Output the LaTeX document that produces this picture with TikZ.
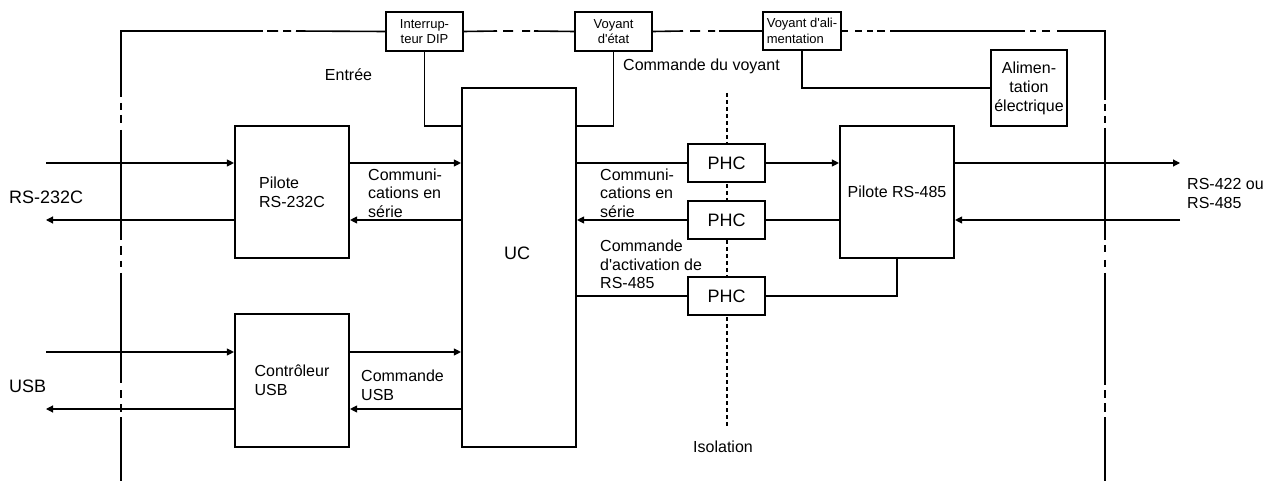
\documentclass[tikz,border=0pt]{standalone}
\usepackage{fontspec}
\setmainfont{Liberation Sans}
\usetikzlibrary{arrows.meta}
\newcommand{\fmain}{\fontsize{16}{18.6}\selectfont}
\newcommand{\fbig}{\fontsize{18}{21}\selectfont}
\newcommand{\fsmall}{\fontsize{13}{15.5}\selectfont}
\newcommand{\ap}{\textquotesingle}
\tikzset{
  blk/.style={draw, line width=2.1pt, fill=white, inner sep=0pt, font=\fmain},
  smallblk/.style={blk, font=\fsmall, minimum width=77pt, minimum height=39pt},
  phcblk/.style={blk, font=\fbig, minimum width=77pt, minimum height=38pt},
  bigblk/.style={blk, minimum width=114pt, align=left},
  conn/.style={line width=1.1pt},
  arr/.style={conn, -{Triangle[length=7pt,width=7pt]}},
  frame/.style={line width=1.6pt},
  isol/.style={line width=1.5pt, dash pattern=on 4pt off 3pt},
  lbl/.style={inner sep=0pt, font=\fmain, align=left},
}
\begin{document}
\begin{tikzpicture}[x=1pt,y=-1pt]
\useasboundingbox (0,0) rectangle (1270,481);

% isolation line (behind PHC boxes)
\coordinate (iso1) at (727,93);
\coordinate (iso2) at (727,426);
\draw[isol] (iso1) -- (iso2);

% blocks
\node[smallblk, align=center] (sw) at (424.5,31.5) {Interrup-\\teur DIP};
\node[smallblk, align=center] (led) at (613.5,31.5) {Voyant\\d\ap état};
\node[smallblk, align=left, minimum width=78pt, minimum height=38pt] (pled) at (802,31) {Voyant d\ap ali-\\mentation};
\node[blk, align=center, minimum width=76pt, minimum height=76pt, font=\fontsize{16}{19}\selectfont] (psu) at (1029,88) {Alimen-\\tation\\électrique};
\node[blk, minimum width=114pt, minimum height=359pt] (uc) at (519,267.5) {};
\node[inner sep=0pt, font=\fbig] (uctext) at (517,253) {UC};
\node[bigblk, minimum height=132pt, font=\fontsize{16}{19}\selectfont] (p232) at (292,192) {Pilote\\RS-232C};
\node[bigblk, minimum height=133pt, font=\fontsize{16}{19}\selectfont] (usbc) at (292,380.5) {Contrôleur\\USB};
\node[phcblk] (phc1) at (726.5,163) {PHC};
\node[phcblk] (phc2) at (726.5,220) {PHC};
\node[phcblk] (phc3) at (726.5,296) {PHC};
\node[bigblk, minimum height=132pt] (p485) at (897,192) {Pilote RS-485};

% levels
\coordinate (r1) at (0,163);
\coordinate (r2) at (0,220);
\coordinate (u1) at (0,352);
\coordinate (u2) at (0,409);
\coordinate (t) at (0,126);
\coordinate (in232) at (46,163);
\coordinate (out232) at (46,220);
\coordinate (inusb) at (46,352);
\coordinate (outusb) at (46,409);
\coordinate (o485) at (1180,163);
\coordinate (i485) at (1180,220);

% connectors
\draw[arr] (in232) -- (p232.west |- r1);
\draw[arr] (p232.west |- r2) -- (out232);
\draw[arr] (p232.east |- r1) -- (uc.west |- r1);
\draw[arr] (uc.west |- r2) -- (p232.east |- r2);
\draw[arr] (inusb) -- (usbc.west |- u1);
\draw[arr] (usbc.west |- u2) -- (outusb);
\draw[arr] (usbc.east |- u1) -- (uc.west |- u1);
\draw[arr] (uc.west |- u2) -- (usbc.east |- u2);
\draw[conn] (uc.east |- phc1.west) -- (phc1.west);
\draw[arr] (phc1.east) -- (p485.west |- phc1.east);
\draw[arr] (phc2.west) -- (uc.east |- phc2.west);
\draw[conn] (p485.west |- phc2.east) -- (phc2.east);
\draw[conn] (uc.east |- phc3.west) -- (phc3.west);
\draw[conn] (phc3.east) -| (p485.south);
\draw[arr] (p485.east |- r1) -- (o485);
\draw[arr] (i485) -- (p485.east |- r2);
\draw[conn] (sw.south) |- (uc.west |- t);
\draw[conn] (led.south) |- (uc.east |- t);
\draw[conn] (pled.south) |- (psu.west);

% frame
\draw[frame, line join=miter] (121,97) -- (121,31) -- (263,31);
\draw[frame] (267,31) -- (278,31) (283,31) -- (291,31) (296,31) -- (sw.west);
\draw[frame] (sw.east) -- (497,31) (503,31) -- (513,31) (522,31) -- (530,31) (534,31) -- (led.west);
\draw[frame] (led.east) -- (683,31) (690,31) -- (700,31) (708,31) -- (715,31) (719,31) -- (pled.west);
\draw[frame] (pled.east) -- (848,31) (855,31) -- (862,31) (867,31) -- (873,31) (877,31) -- (885,31)
  (890,31) -- (1025,31) (1030,31) -- (1036,31) (1042,31) -- (1050,31);
\draw[frame, line join=miter] (1057,31) -- (1105,31) -- (1105,100);
\draw[frame] (121,103) -- (121,110) (121,115) -- (121,123) (121,130) -- (121,240)
  (121,246) -- (121,255) (121,261) -- (121,267) (121,273) -- (121,383)
  (121,390) -- (121,398) (121,404) -- (121,412) (121,417) -- (121,481);
\draw[frame] (1105,104) -- (1105,111) (1105,116) -- (1105,123) (1105,128) -- (1105,240)
  (1105,245) -- (1105,252) (1105,260) -- (1105,267) (1105,273) -- (1105,385)
  (1105,390) -- (1105,398) (1105,403) -- (1105,412) (1105,417) -- (1105,481);

% labels
\node[lbl, font=\fbig, anchor=west] (l232) at (9,197) {RS-232C};
\node[lbl, font=\fbig, anchor=west] (lusb) at (9,386) {USB};
\node[lbl, anchor=west, font=\fontsize{16}{19}\selectfont] (l485) at (1187,193) {RS-422 ou\\RS-485};
\node[lbl, anchor=west] (lcom1) at (368,193) {Communi-\\cations en\\série};
\node[lbl, anchor=west] (lcusb) at (361,385.5) {Commande\\USB};
\node[lbl, anchor=west] (lcom2) at (600,193) {Communi-\\cations en\\série};
\node[lbl, anchor=west] (lact) at (600,264.5) {Commande\\d\ap activation de\\RS-485};
\node[lbl] (lentree) at (348.5,75) {Entrée};
\node[lbl, anchor=west] (lcv) at (623,66) {Commande du voyant};
\node[lbl] (liso) at (723,447) {Isolation};
\end{tikzpicture}
\end{document}
